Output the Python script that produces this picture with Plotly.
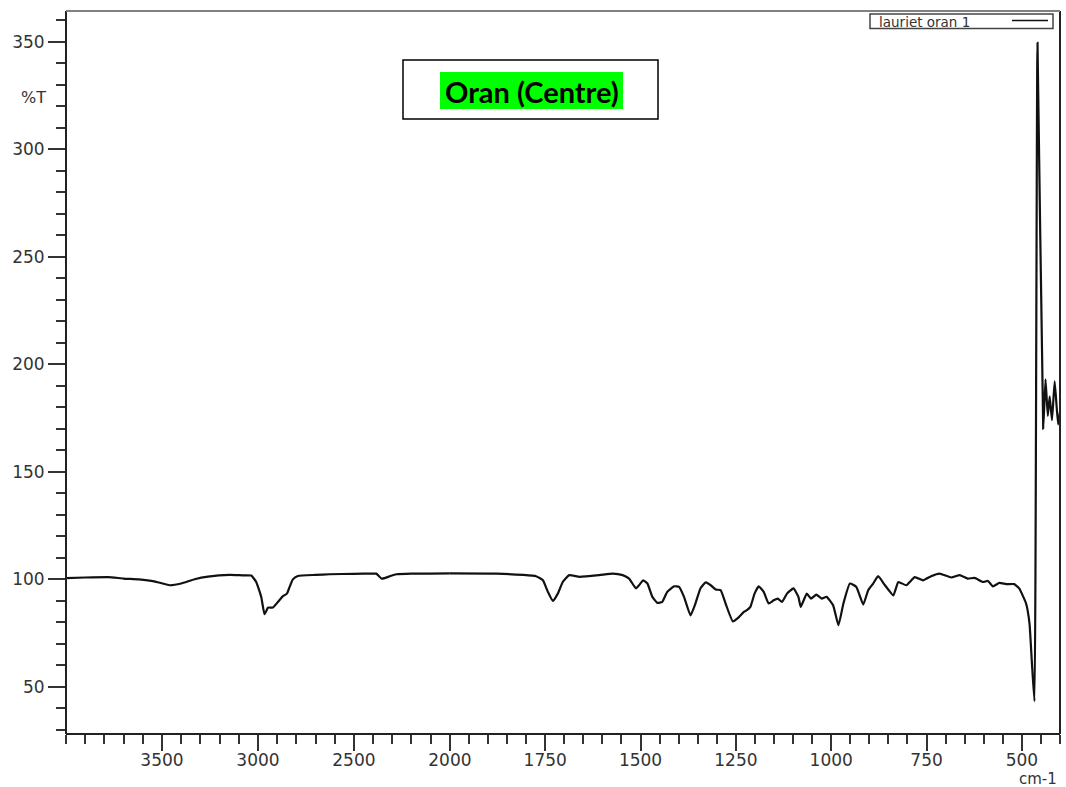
import numpy as np
import plotly.graph_objects as go

# IR spectrum, wavenumber (cm-1) vs transmittance (%T)
wavenumber = [
    4000, 3900, 3780, 3700, 3620, 3540, 3460, 3400, 3330, 3260, 3148, 3080,
    3035, 3009, 2983, 2966, 2955, 2948, 2922, 2896, 2870, 2849, 2835, 2818,
    2792, 2700, 2626, 2500, 2400, 2383, 2370, 2357, 2340, 2322, 2278, 2200,
    2104, 2000, 1878, 1808, 1774, 1756, 1743, 1730, 1717, 1704, 1687, 1660,
    1608, 1573, 1547, 1530, 1512, 1504, 1493, 1482, 1469, 1456, 1443, 1430,
    1412, 1399, 1386, 1369, 1356, 1343, 1329, 1316, 1303, 1290, 1277, 1258,
    1242, 1229, 1221, 1212, 1201, 1190, 1177, 1164, 1151, 1140, 1129, 1116,
    1099, 1086, 1080, 1064, 1053, 1039, 1025, 1012, 995, 981, 968, 951,
    934, 916, 903, 890, 877, 859, 837, 824, 803, 781, 759, 738,
    716, 685, 663, 642, 624, 602, 589, 576, 559, 541, 520, 507,
    489, 480, 474, 467, 459, 444, 438, 432, 427, 421, 414, 405, 400,
]
transmittance = [
    100.5, 100.8, 101.0, 100.3, 99.9, 99.0, 97.2, 98.0, 100.0, 101.2, 102.0, 101.8,
    101.7, 98.7, 91.8, 83.7, 85.5, 86.8, 86.8, 89.4, 92.1, 93.3, 96.4, 99.9,
    101.5, 102.0, 102.3, 102.5, 102.6, 102.6, 101.5, 100.3, 100.5, 101.1, 102.3, 102.6,
    102.6, 102.7, 102.6, 102.0, 101.4, 99.5, 94.1, 89.9, 93.3, 98.7, 101.9, 101.1,
    101.9, 102.6, 101.9, 100.3, 95.7, 97.2, 99.5, 98.0, 91.8, 89.0, 89.5, 94.1,
    96.7, 96.4, 91.8, 83.2, 88.7, 95.7, 98.5, 97.2, 95.2, 94.9, 88.7, 80.4,
    82.4, 84.8, 85.6, 87.1, 93.3, 96.7, 94.1, 88.7, 90.2, 91.0, 89.4, 93.3,
    95.7, 91.8, 87.1, 93.3, 91.0, 92.8, 91.0, 91.8, 87.9, 78.6, 88.7, 98.0,
    96.4, 88.2, 94.9, 98.0, 101.4, 97.2, 92.5, 98.7, 97.2, 101.0, 99.5, 101.4,
    102.6, 100.8, 101.9, 100.3, 100.6, 98.7, 99.2, 96.7, 98.3, 97.7, 97.7, 95.7,
    88.7, 79.5, 62.0, 43.2, 349.5, 170, 193, 176, 185, 174, 192, 172, 178,
]

# the wavenumber axis changes scale at 2000 cm-1
x_ticks_high = [3500, 3000, 2500, 2000]
x_ticks_low = [1750, 1500, 1250, 1000, 750, 500]
y_ticks = [50, 100, 150, 200, 250, 300, 350]

series_name = "lauriet oran 1"
box_title = "Oran (Centre)"

W, H = 1066, 787
ML, MR, MT, MB = 66, 6, 11, 53
PW, PH = W - ML - MR, H - MT - MB
SPLIT = 0.3862

def px(x):
    return (x - ML) / PW

def py(y):
    return (H - MB - y) / PH

wn = np.array(wavenumber, dtype=float)
tr = np.array(transmittance, dtype=float)
hi = wn >= 2000
lo = wn <= 2000

TXT = "#333333"
LINE = dict(color="#111111", width=2.2, shape="spline", smoothing=0.4)

fig = go.Figure()
fig.add_trace(go.Scatter(x=wn[hi], y=tr[hi], mode="lines", line=LINE,
                         xaxis="x", yaxis="y", showlegend=False, hoverinfo="x+y"))
fig.add_trace(go.Scatter(x=wn[lo], y=tr[lo], mode="lines", line=LINE,
                         xaxis="x2", yaxis="y", showlegend=False, hoverinfo="x+y"))

tick_font = dict(family="DejaVu Sans", size=17, color=TXT)
common_x = dict(
    showgrid=False, zeroline=False, showline=False, automargin=False,
    ticks="outside", ticklen=16, tickwidth=2, tickcolor=TXT,
    tickfont=tick_font, tickmode="array", ticklabelstandoff=-5,
)
fig.update_layout(
    width=W, height=H,
    margin=dict(l=ML, r=MR, t=MT, b=MB, autoexpand=False),
    paper_bgcolor="white", plot_bgcolor="white",
    xaxis=dict(domain=[0, SPLIT], range=[4000, 2000], anchor="y",
               tickvals=x_ticks_high, ticktext=[str(v) for v in x_ticks_high],
               minor=dict(dtick=100, tick0=0, ticklen=9, tickwidth=2,
                          tickcolor=TXT, ticks="outside"),
               **common_x),
    xaxis2=dict(domain=[SPLIT, 1], range=[2000, 400], anchor="y",
                tickvals=x_ticks_low, ticktext=[str(v) for v in x_ticks_low],
                minor=dict(dtick=50, tick0=0, ticklen=9, tickwidth=2,
                           tickcolor=TXT, ticks="outside"),
                **common_x),
    yaxis=dict(range=[28.0, 364.3], anchor="x", automargin=False,
               showgrid=False, zeroline=False, showline=False,
               ticks="outside", ticklen=17, tickwidth=2, tickcolor=TXT,
               tickmode="array", tickvals=y_ticks,
               ticktext=[str(v) for v in y_ticks], tickfont=tick_font,
               minor=dict(dtick=10, tick0=0, ticklen=9, tickwidth=2,
                          tickcolor=TXT, ticks="outside")),
    showlegend=False,
)

shapes = [
    # plot frame
    dict(type="line", xref="paper", yref="paper", x0=0, x1=0, y0=0, y1=1,
         line=dict(color="#222222", width=2)),
    dict(type="line", xref="paper", yref="paper", x0=0, x1=1, y0=0, y1=0,
         line=dict(color="#222222", width=2)),
    dict(type="line", xref="paper", yref="paper", x0=1, x1=1, y0=0, y1=1,
         line=dict(color="#222222", width=2)),
    dict(type="line", xref="paper", yref="paper", x0=0, x1=1, y0=1, y1=1,
         line=dict(color="#808080", width=2)),
    # legend box and its line sample
    dict(type="rect", xref="paper", yref="paper",
         x0=px(870), x1=px(1053), y0=py(28.5), y1=py(14),
         line=dict(color="#444444", width=1.5), fillcolor="white"),
    dict(type="line", xref="paper", yref="paper",
         x0=px(1012), x1=px(1048), y0=py(20.5), y1=py(20.5),
         line=dict(color="#111111", width=1.5)),
    # title box with highlighted text
    dict(type="rect", xref="paper", yref="paper",
         x0=px(403), x1=px(658), y0=py(119), y1=py(60),
         line=dict(color="#000000", width=1.5), fillcolor="white"),
    dict(type="rect", xref="paper", yref="paper",
         x0=px(440), x1=px(623), y0=py(109), y1=py(72),
         line=dict(width=0), fillcolor="#00FF00"),
]
fig.update_layout(shapes=shapes)

annotations = [
    dict(text=series_name, xref="paper", yref="paper", x=px(877), y=py(21.8),
         xanchor="left", yanchor="middle", showarrow=False,
         font=dict(family="DejaVu Sans", size=13.5, color=TXT)),
    dict(text="<b>" + box_title + "</b>", xref="paper", yref="paper",
         x=px(531.5), y=py(91), xanchor="center", yanchor="middle",
         showarrow=False, font=dict(family="Lato", size=29, color="#000000")),
    dict(text="%T", xref="paper", yref="paper", x=px(48), y=py(97),
         xanchor="right", yanchor="middle", showarrow=False,
         font=dict(family="DejaVu Sans", size=16, color=TXT)),
    dict(text="cm-1", xref="paper", yref="paper", x=px(1059), y=py(779),
         xanchor="right", yanchor="middle", showarrow=False,
         font=dict(family="DejaVu Sans", size=15, color=TXT)),
]
fig.update_layout(annotations=annotations)

fig.write_html("out.html")
